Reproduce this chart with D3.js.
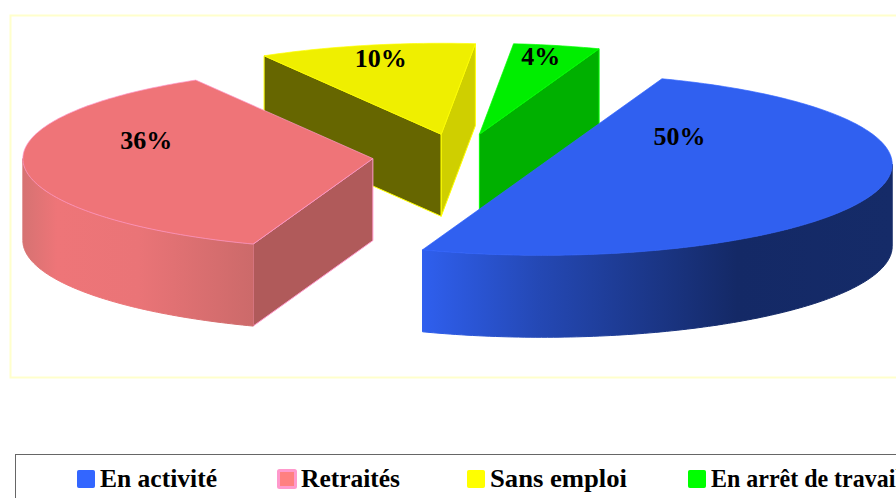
<!DOCTYPE html>
<html>
<head>
<meta charset="utf-8">
<script src="https://cdn.jsdelivr.net/npm/d3@7"></script>
<style>
    html, body { margin: 0; padding: 0; background: #fff; overflow: hidden; }
    text { font-family: "Liberation Serif", serif; font-weight: bold; fill: #000; }
</style>
</head>
<body>
<div id="chart-container"></div>
<script>
// Data
const categories = ["En activité", "Retraités", "Sans emploi", "En arrêt de travail"];
const percents = [50, 36, 10, 4];

// Colours per slice
const topColors = ["#3060f0", "#ef7478", "#efef00", "#00ee00"];
const strokeColors = ["#3366ff", "#ff99cc", "#ffff00", "#00ff00"];
const legendFill = ["#3366ff", "#ff8080", "#ffff00", "#00ff00"];
const startFaceColors = ["#14296a", "#b05a5a", "#666600", "#00b000"];
const endFaceColors = ["#14296a", "#b05a5a", "#cfcf00", "#00b000"];
const wallStops = [
    [["0%", "#2f5fee"], ["25%", "#2448b4"], ["67%", "#142966"], ["100%", "#152b68"]],
    [["0%", "#d67272"], ["15%", "#ee7578"], ["50%", "#ea7477"], ["100%", "#cc6a6a"]],
    [["0%", "#666600"], ["100%", "#666600"]],
    [["0%", "#00b000"], ["100%", "#00b000"]]
];

// Set dimensions
const width = 896;
const height = 498;

// Pie geometry (tilted ellipse)
const rx = 350;
const ry = 91;
const depth = 82;
const centerX = 460;
const centerY = 156.5;
const explode = 0.25;
const firstAngle = 20 * Math.PI / 180;

// Label position relative to the slice centre, in fractions of the radii
const labelOffsets = [[0.391, -0.30], [-0.649, -0.187], [-0.174, -0.824], [0.174, -0.846]];

// Legend layout
const legendX = [77, 278, 467, 688];
const legendTextWidth = [117, 99, 137, 191];

const svg = d3.select("#chart-container")
    .append("svg")
    .attr("width", width)
    .attr("height", height)
    .style("display", "block");

// Outer frame
svg.append("rect")
    .attr("x", 10.5)
    .attr("y", 15.5)
    .attr("width", 920)
    .attr("height", 362)
    .attr("fill", "none")
    .attr("stroke", "#ffffcc")
    .attr("stroke-width", 2);

// Pie layout, angles run clockwise from 12 o'clock
const pie = d3.pie()
    .value(d => d)
    .sort(null)
    .startAngle(firstAngle)
    .endAngle(firstAngle + 2 * Math.PI);

const arcs = pie(percents);

const line = d3.line();

// Screen point for an angle on the ellipse, at a given depth below the top face
function point(c, angle, radius, drop) {
    return [
        c.x + Math.sin(angle) * rx * radius,
        c.y - Math.cos(angle) * ry * radius + drop
    ];
}

function sampleAngles(a0, a1) {
    const steps = Math.max(2, Math.ceil((a1 - a0) * 60));
    return d3.range(steps + 1).map(i => a0 + (a1 - a0) * i / steps);
}

const defs = svg.append("defs");

const slices = arcs.map((d, i) => {
    const mid = (d.startAngle + d.endAngle) / 2;
    const center = {
        x: centerX + Math.sin(mid) * rx * explode,
        y: centerY - Math.cos(mid) * ry * explode
    };
    return { d, i, center };
});

// Back slices first so the front ones cover them
const drawOrder = [2, 3, 1, 0];

drawOrder.forEach(index => {
    const { d, i, center } = slices[index];
    const g = svg.append("g").attr("class", "slice");
    const stroke = strokeColors[i];

    const face = (angle, color) => {
        const outer = point(center, angle, 1, 0);
        const outerLow = point(center, angle, 1, depth);
        const innerLow = point(center, angle, 0, depth);
        const inner = point(center, angle, 0, 0);
        g.append("path")
            .attr("d", line([inner, outer, outerLow, innerLow]) + "Z")
            .attr("fill", color)
            .attr("stroke", stroke)
            .attr("stroke-width", 1);
    };

    // Radial faces, only the ones turned to the viewer
    if (Math.sin(d.startAngle) < 0) face(d.startAngle, startFaceColors[i]);
    if (Math.sin(d.endAngle) > 0) face(d.endAngle, endFaceColors[i]);

    // Outer wall: only the front half of the ellipse shows
    const wallStart = Math.max(d.startAngle, Math.PI / 2);
    const wallEnd = Math.min(d.endAngle, 3 * Math.PI / 2);
    if (wallEnd > wallStart) {
        const angles = sampleAngles(wallStart, wallEnd);
        const upper = angles.map(a => point(center, a, 1, 0));
        const lower = angles.map(a => point(center, a, 1, depth)).reverse();
        const xs = upper.map(p => p[0]);
        // Shading runs left to right across the visible wall
        const gradient = defs.append("linearGradient")
            .attr("id", `wall-${i}`)
            .attr("gradientUnits", "userSpaceOnUse")
            .attr("x1", d3.min(xs))
            .attr("x2", d3.max(xs))
            .attr("y1", 0)
            .attr("y2", 0);
        gradient.selectAll("stop")
            .data(wallStops[i])
            .enter()
            .append("stop")
            .attr("offset", s => s[0])
            .attr("stop-color", s => s[1]);
        g.append("path")
            .attr("d", line(upper.concat(lower)) + "Z")
            .attr("fill", `url(#wall-${i})`)
            .attr("stroke", `url(#wall-${i})`)
            .attr("stroke-width", 1);
    }

    // Top face
    const rim = sampleAngles(d.startAngle, d.endAngle).map(a => point(center, a, 1, 0));
    g.append("path")
        .attr("d", line([point(center, 0, 0, 0)].concat(rim)) + "Z")
        .attr("fill", topColors[i])
        .attr("stroke", stroke)
        .attr("stroke-width", 0.7)
        .attr("stroke-linejoin", "round");
});

// Add percent labels
svg.selectAll(".label")
    .data(slices)
    .enter()
    .append("text")
    .attr("class", "label")
    .attr("x", s => s.center.x + labelOffsets[s.i][0] * rx + 0.5)
    .attr("y", s => s.center.y + labelOffsets[s.i][1] * ry)
    .attr("dy", "0.3em")
    .attr("text-anchor", "middle")
    .style("font-size", "26px")
    .text(s => `${percents[s.i]}%`);

// Legend box, runs out of the window on the right and at the bottom
svg.append("rect")
    .attr("x", 15.5)
    .attr("y", 454.5)
    .attr("width", 920)
    .attr("height", 80)
    .attr("fill", "#fff")
    .attr("stroke", "#666666")
    .attr("stroke-width", 1);

const legend = svg.selectAll(".legend")
    .data(categories)
    .enter()
    .append("g")
    .attr("class", "legend")
    .attr("transform", (d, i) => `translate(${legendX[i]},470)`);

legend.append("rect")
    .attr("x", 0.5)
    .attr("y", 0.5)
    .attr("width", 17)
    .attr("height", 17)
    .attr("rx", 1)
    .attr("fill", (d, i) => legendFill[i])
    .attr("stroke", (d, i) => strokeColors[i])
    .attr("stroke-width", (d, i) => (i === 1 ? 3 : 1));

legend.append("text")
    .attr("x", 23)
    .attr("y", 16.5)
    .attr("textLength", (d, i) => legendTextWidth[i])
    .attr("lengthAdjust", "spacingAndGlyphs")
    .style("font-size", "25px")
    .text(d => d);
</script>
</body>
</html>
